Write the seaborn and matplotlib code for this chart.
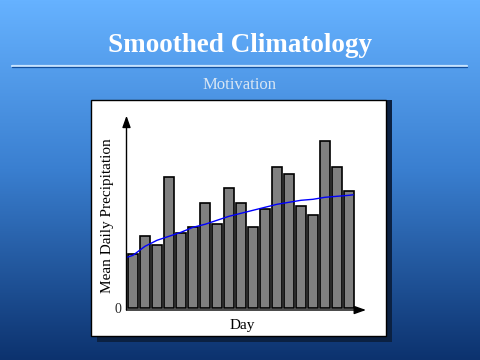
import numpy as np
import pandas as pd
import matplotlib
matplotlib.use("Agg")
import matplotlib.pyplot as plt
from matplotlib.patches import Rectangle
import seaborn as sns

# ------------------------------------------------------------
# data (arbitrary precipitation units)
# ------------------------------------------------------------
days = list(range(19))
precip = [54, 72, 63, 131, 75, 81, 105, 84, 120, 105, 81, 99, 141, 134, 102, 93, 167, 141, 117]

curve_day = [-0.5, 0, 1, 2, 3, 4, 5, 6, 7, 8, 9, 10, 11, 12, 13, 14, 15, 16, 17, 18, 18.35]
curve_val = [51, 53, 62, 68, 72, 76, 81, 84, 88, 92, 95, 98, 101, 104, 106, 108, 109, 111, 112, 113, 113.5]

TITLE = "Smoothed Climatology"
SUBTITLE = "Motivation"
XLABEL = "Day"
YLABEL = "Mean Daily Precipitation"

sns.set_style("white")
plt.rcParams["font.family"] = ["Liberation Serif", "DejaVu Serif"]

W, H = 480, 360
fig = plt.figure(figsize=(W / 100, H / 100), dpi=100)


def fx(px):
    return px / W


def fy(py):
    return 1 - py / H


# ------------------------------------------------------------
# slide background (vertical gradient, 3 colour stops)
# ------------------------------------------------------------
bg = fig.add_axes([0, 0, 1, 1])
bg.set_zorder(-10)
stops = [0, 0.47, 1]
stop_rgb = np.array([[102, 178, 255], [58, 127, 208], [12, 50, 110]]) / 255
t = np.linspace(0, 1, 360)
grad = np.stack([np.interp(t, stops, stop_rgb[:, c]) for c in range(3)], axis=1)[:, None, :]
bg.imshow(grad, aspect="auto", extent=[0, 1, 0, 1])
bg.set_axis_off()

# title + rule
fig.text(0.5, fy(45), TITLE, ha="center", va="center", color="white",
         fontsize=19.5, fontweight="bold")
fig.add_artist(plt.Line2D([fx(12), fx(467)], [fy(65.5), fy(65.5)], color="#c8e4ff", lw=1.6))
fig.add_artist(plt.Line2D([fx(12), fx(467)], [fy(67.3), fy(67.3)], color="#124f9e", lw=0.9))
fig.text(0.5, fy(85), SUBTITLE, ha="center", va="center", color="#d8e6f4", fontsize=12)

# white panel with shadow
fig.add_artist(Rectangle((fx(97), fy(342)), fx(295), 242 / H, transform=fig.transFigure,
                         facecolor="#0b2142", edgecolor="none", zorder=1))
fig.add_artist(Rectangle((fx(91), fy(336)), fx(295), 236 / H, transform=fig.transFigure,
                         facecolor="white", edgecolor="black", lw=1, zorder=1.5))

# ------------------------------------------------------------
# chart
# ------------------------------------------------------------
df = pd.DataFrame({"day": days, "precip": precip})
curve = pd.DataFrame({"day": curve_day, "val": curve_val})

ax = fig.add_axes([fx(126.5), 50 / H, fx(366 - 126.5), (310 - 115.7) / H])
ax.set_zorder(5)
ax.patch.set_alpha(0)
sns.barplot(data=df, x="day", y="precip", color="#808080", saturation=1,
            width=0.78, edgecolor="black", linewidth=1.2, ax=ax)
sns.lineplot(data=curve, x="day", y="val", color="#0000ff", lw=1, ax=ax)

ax.set_xlim(-0.54, 19.42)
ax.set_ylim(-1.7, 192.6)
for s in ax.spines.values():
    s.set_visible(False)
ax.set_xticks([])
ax.set_yticks([0])
ax.set_yticklabels(["0"], fontsize=10)
ax.tick_params(axis="y", length=0, pad=4)
ax.set_xlabel("")
ax.set_ylabel("")

arrow = dict(arrowstyle="-|>,head_length=0.7,head_width=0.25", color="black", lw=1,
             shrinkA=0, shrinkB=0)
ax.annotate("", xy=(1, 0), xytext=(0, 0), xycoords="axes fraction", arrowprops=arrow)
ax.annotate("", xy=(0, 1), xytext=(0, 0), xycoords="axes fraction", arrowprops=arrow)

fig.text(fx(107), fy(216), YLABEL, rotation=90, ha="center", va="center",
         color="black", fontsize=11, zorder=6)
fig.text(fx(242), fy(325), XLABEL, ha="center", va="center", color="black",
         fontsize=11, zorder=6)

fig.savefig("out.png", dpi=100)
